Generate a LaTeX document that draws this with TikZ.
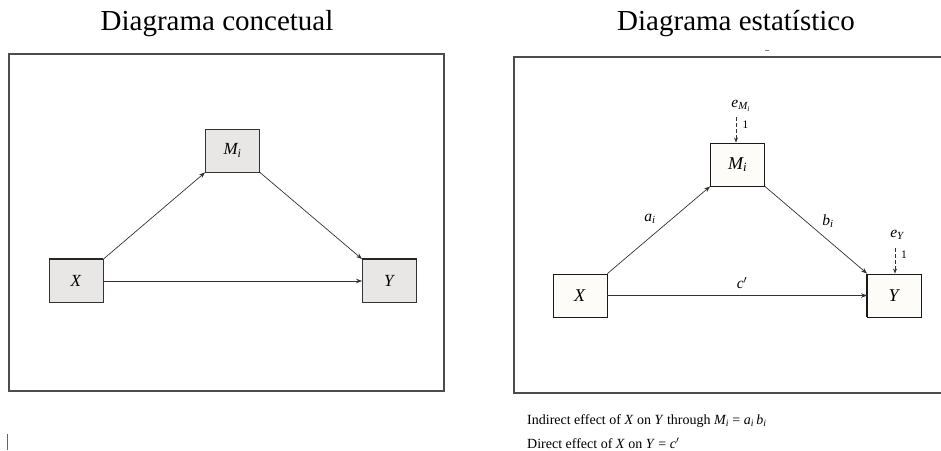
\documentclass[tikz,border=0pt]{standalone}
\usepackage{amsmath}
\usepackage{fontspec}
\setmainfont{Liberation Serif}
\usetikzlibrary{arrows.meta}
\newcommand\vi[1]{\textit{#1}}
\definecolor{cfill}{RGB}{232,231,229}
\definecolor{sfill}{RGB}{253,252,249}
\tikzset{
  frame/.style={draw=black!70, line width=1.1pt},
  cbox/.style={draw=black!80, fill=cfill, line width=0.9pt, minimum width=54pt, minimum height=43pt, inner sep=0pt, font=\fontsize{17}{19}\selectfont},
  sbox/.style={draw=black!90, fill=sfill, line width=0.9pt, minimum width=54pt, minimum height=43pt, inner sep=0pt, font=\fontsize{18}{20}\selectfont},
  arr/.style={draw=black!80, line width=0.7pt, -{Stealth[length=6pt,width=4.5pt]}},
  darr/.style={draw=black!80, line width=0.8pt, dash pattern=on 3.5pt off 2.5pt, -{Stealth[length=5pt,width=4pt]}},
  title/.style={font=\fontsize{29}{32}\selectfont},
  lbl/.style={font=\fontsize{15.5}{17}\selectfont, inner sep=1pt},
  one/.style={font=\fontsize{11.5}{12}\selectfont, inner sep=0pt},
  foot/.style={font=\fontsize{14}{15}\selectfont, anchor=west, inner sep=0pt}
}
\begin{document}
\begin{tikzpicture}[x=1pt,y=-1pt]
\useasboundingbox (0,0) rectangle (941,450);
% titles
\node[title] (t1) at (217,24) {Diagrama concetual};
\node[title] (t2) at (736,24) {Diagrama estatístico};
% frames
\draw[frame] (9,54) rectangle (444,391);
\draw[frame] (514,57) rectangle (942,393);
% artifacts
\draw[black!50, line width=0.6pt] (765,50) -- (769,50);
\draw[black!60, line width=0.7pt] (7,434) -- (7,450);
% conceptual diagram
\node[cbox] (cX) at (76,281) {\vi{X}};
\node[cbox] (cM) at (232.5,150.5) {$\vi{M}_{\vi{i}}$};
\node[cbox] (cY) at (389.5,281) {\vi{Y}};
\draw[line width=1.8pt, black!85] (cX.north west) -- (cX.north east);
\draw[line width=1.8pt, black!85] (cY.north west) -- (cY.north east);
\draw[arr] (cX.north east) -- (cM.south west);
\draw[arr] (cM.south east) -- (cY.north west);
\draw[arr] (cX.east) -- (cY.west);
% statistical diagram
\node[sbox] (sX) at (580,295.5) {\vi{X}};
\node[sbox] (sM) at (737.5,164.5) {$\vi{M}_{\vi{i}}$};
\node[sbox] (sY) at (894.5,295.5) {\vi{Y}};
\draw[line width=1.8pt, black!90] (sY.north west) -- (sY.south west);
\draw[arr] (sX.north east) -- (sM.south west);
\draw[arr] (sM.south east) -- (sY.north west);
\draw[arr] (sX.east) -- (sY.west);
\node[lbl] (la) at (650,219) {$\vi{a}_{\vi{i}}$};
\node[lbl] (lb) at (828,221) {$\vi{b}_{\vi{i}}$};
\node[lbl] (lc) at (742,283) {\vi{c}$'$};
% error terms
\node[lbl] (eM) at (741,106) {$\vi{e}_{\vi{M}_{\vi{i}}}$};
\coordinate (eMs) at (736,117);
\draw[darr] (eMs) -- (eMs |- sM.north);
\node[one] (oM) at (745.5,125) {1};
\node[lbl] (eY) at (897,235) {$\vi{e}_{\vi{Y}}$};
\coordinate (eYs) at (895,248);
\draw[darr] (eYs) -- (eYs |- sY.north);
\node[one] (oY) at (904,255) {1};
% footer
\node[foot] (f1) at (527,421) {Indirect effect of \vi{X} on \vi{Y} through $\vi{M}_{\vi{i}}$ = $\vi{a}_{\vi{i}}\,\vi{b}_{\vi{i}}$};
\node[foot] (f2) at (527,443) {Direct effect of \vi{X} on \vi{Y} = \vi{c}$'$};
\end{tikzpicture}
\end{document}
